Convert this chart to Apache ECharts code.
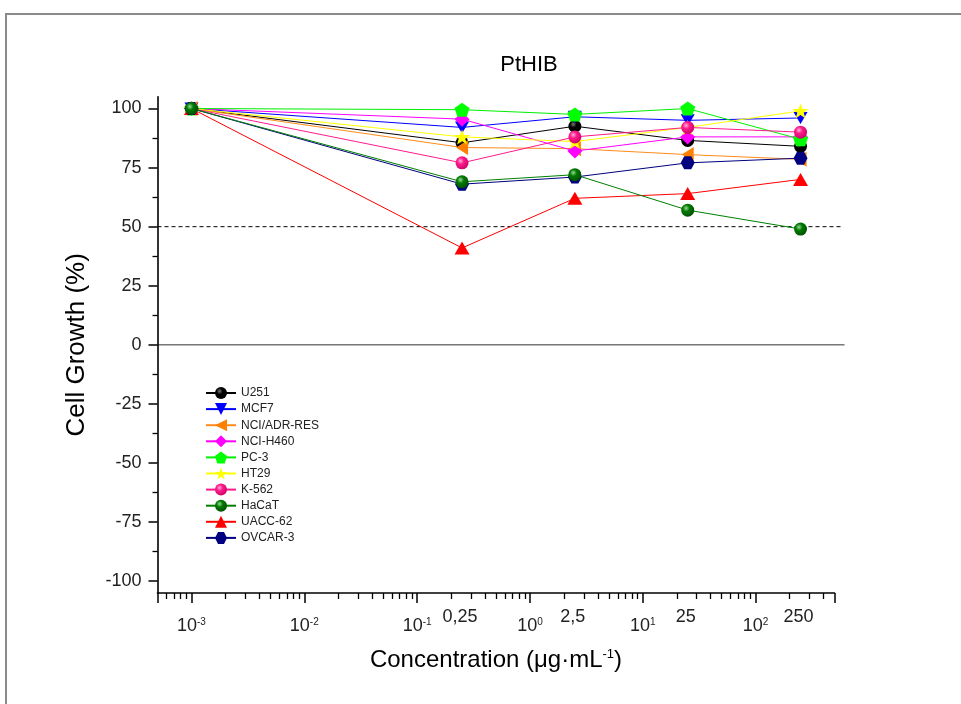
<!DOCTYPE html>
<html><head><meta charset="utf-8">
<script src="https://cdn.jsdelivr.net/npm/echarts@6/dist/echarts.min.js"></script>
<style>html,body{margin:0;padding:0;background:#fff}#c{width:961px;height:704px}</style>
</head><body><div id="c"></div>
<script>
// ---- data ----
const concentrations = [0.001, 0.25, 2.5, 25, 250];
const concLabels = ['0,25', '2,5', '25', '250'];
const concLabelValues = [0.25, 2.5, 25, 250];
const yTickValues = [-100, -75, -50, -25, 0, 25, 50, 75, 100];
const yMinorTickValues = [-87.5, -62.5, -37.5, -12.5, 12.5, 37.5, 62.5, 87.5];
const refLine = 50;
const seriesNames = ['U251', 'MCF7', 'NCI/ADR-RES', 'NCI-H460', 'PC-3', 'HT29', 'K-562', 'HaCaT', 'UACC-62', 'OVCAR-3'];
const U251 = [100, 85.5, 92.5, 86.5, 84];
const MCF7 = [100, 92, 96.5, 95, 96];
const NCI_ADR_RES = [100, 83.5, 83, 80.5, 78.5];
const NCI_H460 = [100, 95.5, 82, 88, 88];
const PC3 = [100, 99.5, 97.5, 100, 87];
const HT29 = [100, 88, 86, 92, 99];
const K562 = [100, 77, 88, 92, 90];
const HaCaT = [100, 69, 72, 57, 49];
const UACC62 = [100, 41, 62, 64, 70];
const OVCAR3 = [100, 68, 71, 77, 79];
const seriesValues = [U251, MCF7, NCI_ADR_RES, NCI_H460, PC3, HT29, K562, HaCaT, UACC62, OVCAR3];

// ---- styles ----
const FONT = '"Liberation Sans", Arial, sans-serif';
const xMin = 5e-4, xMax = 500, yMin = -105, yMax = 105;
function sphere(base, light, dark) {
  return {type: 'radial', x: 0.38, y: 0.35, r: 0.75, colorStops: [
    {offset: 0, color: light}, {offset: 0.35, color: base}, {offset: 1, color: dark}]};
}
const STAR = 'path://M0,-10 L2.35,-3.24 L9.51,-3.09 L3.80,1.24 L5.88,8.09 L0,4 L-5.88,8.09 L-3.80,1.24 L-9.51,-3.09 L-2.35,-3.24 Z';
const PENT = 'path://M0,-10 L9.51,-3.09 L5.88,8.09 L-5.88,8.09 L-9.51,-3.09 Z';
const HEX = 'path://M-10,0 L-5,-8.66 L5,-8.66 L10,0 L5,8.66 L-5,8.66 Z';
const DOWN = 'path://M-10,-8.66 L10,-8.66 L0,8.66 Z';
const LEFT = 'path://M8.66,-10 L8.66,10 L-8.66,0 Z';
const styles = [
  {line: '#000000', fill: sphere('#000000', '#777777', '#000000'), symbol: 'circle', size: 13},
  {line: '#0000FF', fill: '#0000FF', symbol: DOWN, size: [14, 12]},
  {line: '#FF8C1A', fill: '#FF8000', symbol: LEFT, size: [12, 15]},
  {line: '#FF00FF', fill: '#FF00FF', symbol: 'diamond', size: [15, 15]},
  {line: '#00F000', fill: '#00FF00', symbol: PENT, size: [15, 14]},
  {line: '#FFFF00', fill: '#FFFF00', symbol: STAR, size: [16, 15]},
  {line: '#FF1A8C', fill: sphere('#FF1A8C', '#FFB0D8', '#C00060'), symbol: 'circle', size: 13},
  {line: '#008000', fill: sphere('#007A00', '#9AD89A', '#004A00'), symbol: 'circle', size: 13},
  {line: '#FF0000', fill: '#FF0000', symbol: 'triangle', size: [15, 13]},
  {line: '#000080', fill: '#000080', symbol: HEX, size: [14, 13]}
];
const zOrder = [2, 2, 2, 2, 2, 2, 3, 4, 2, 3];

const series = seriesNames.map((name, i) => ({
  name, type: 'line',
  data: concentrations.map((c, j) => [c, seriesValues[i][j]]),
  symbol: styles[i].symbol, symbolSize: styles[i].size, showSymbol: true,
  z: zOrder[i],
  lineStyle: {color: styles[i].line, width: 1},
  itemStyle: {color: styles[i].fill, borderWidth: 0},
  emphasis: {disabled: true},
  clip: false
}));

const chart = echarts.init(document.getElementById('c'), null, {renderer: 'canvas'});
const option = {
  animation: false,
  backgroundColor: '#fff',
  title: {text: 'PtHIB', left: 524, top: 49, textAlign: 'center',
    textStyle: {fontFamily: FONT, fontSize: 22, fontWeight: 'normal', color: '#000'}},
  grid: {left: 157.5, right: 126.5, top: 96.7, bottom: 111},
  legend: {orient: 'vertical', left: 200, top: 382, itemWidth: 30, itemHeight: 15, itemGap: 4.1,
    data: seriesNames, textStyle: {fontFamily: FONT, fontSize: 12, color: '#222'}},
  xAxis: {
    type: 'log', logBase: 10, min: xMin, max: xMax,
    name: 'Concentration (μg·mL{s|-1})', nameLocation: 'middle', nameGap: 55,
    nameTextStyle: {fontFamily: FONT, fontSize: 24, color: '#000',
      rich: {s: {fontFamily: FONT, fontSize: 13, color: '#000', verticalAlign: 'top', padding: [0, 0, 12, 0]}}},
    axisLine: {onZero: false, lineStyle: {color: '#000', width: 1.6}},
    axisTick: {length: 10, lineStyle: {color: '#000', width: 1.5}},
    minorTick: {show: true, splitNumber: 9, length: 6, lineStyle: {color: '#000', width: 1.3}},
    splitLine: {show: false}, minorSplitLine: {show: false},
    axisLabel: {
      margin: 24, showMinLabel: false, showMaxLabel: false,
      formatter: v => {
        const e = Math.log10(v);
        if (Math.abs(e - Math.round(e)) > 1e-6) return '';
        return '{b|10}{s|' + Math.round(e) + '}';
      },
      rich: {
        b: {fontFamily: FONT, fontSize: 18, color: '#222'},
        s: {fontFamily: FONT, fontSize: 10, color: '#222', verticalAlign: 'top', padding: [0, 0, 8, 0]}
      }
    }
  },
  yAxis: [{
    type: 'value', min: yMin, max: yMax,
    name: 'Cell Growth (%)', nameLocation: 'middle', nameGap: 68, nameRotate: 90,
    nameTextStyle: {fontFamily: FONT, fontSize: 26, color: '#000'},
    axisLine: {show: true, onZero: false, lineStyle: {color: '#000', width: 1.6}},
    axisTick: {show: true, length: 9, customValues: yTickValues, lineStyle: {color: '#000', width: 1.5}},
    axisLabel: {customValues: yTickValues, margin: 16, fontFamily: FONT, fontSize: 18, color: '#222'},
    splitLine: {show: false}
  }, {
    type: 'value', min: yMin, max: yMax, position: 'left',
    axisLine: {show: false},
    axisTick: {show: true, length: 5, customValues: yMinorTickValues, lineStyle: {color: '#000', width: 1.3}},
    axisLabel: {show: false},
    splitLine: {show: false}
  }],
  series
};
chart.setOption(option);

// reference lines and extra concentration labels positioned through the axes
const pZeroL = chart.convertToPixel({gridIndex: 0}, [xMin, 0]);
const pZeroR = chart.convertToPixel({gridIndex: 0}, [xMax, 0]);
const pRefL = chart.convertToPixel({gridIndex: 0}, [xMin, refLine]);
const pRefR = chart.convertToPixel({gridIndex: 0}, [xMax, refLine]);
const graphic = [
  {type: 'rect', z: -10, silent: true, shape: {x: 6, y: 14, width: 1000, height: 800},
    style: {fill: null, stroke: '#8a8a8a', lineWidth: 2}},
  {type: 'line', z: 0, silent: true, shape: {x1: pZeroL[0], y1: pZeroL[1], x2: pZeroR[0] + 10, y2: pZeroR[1]},
    style: {stroke: '#333', lineWidth: 1}},
  {type: 'line', z: 0, silent: true, shape: {x1: pRefL[0], y1: pRefL[1], x2: pRefR[0] + 9, y2: pRefR[1]},
    style: {stroke: '#000', lineWidth: 1, lineDash: [4, 3]}}
];
concLabelValues.forEach((v, i) => {
  const p = chart.convertToPixel({gridIndex: 0}, [v, yMin]);
  graphic.push({type: 'text', silent: true, x: p[0] - 2, y: p[1] + 15,
    style: {text: concLabels[i], font: '18px ' + FONT, fill: '#222', textAlign: 'center', textVerticalAlign: 'top'}});
});
chart.setOption({graphic});
</script></body></html>
